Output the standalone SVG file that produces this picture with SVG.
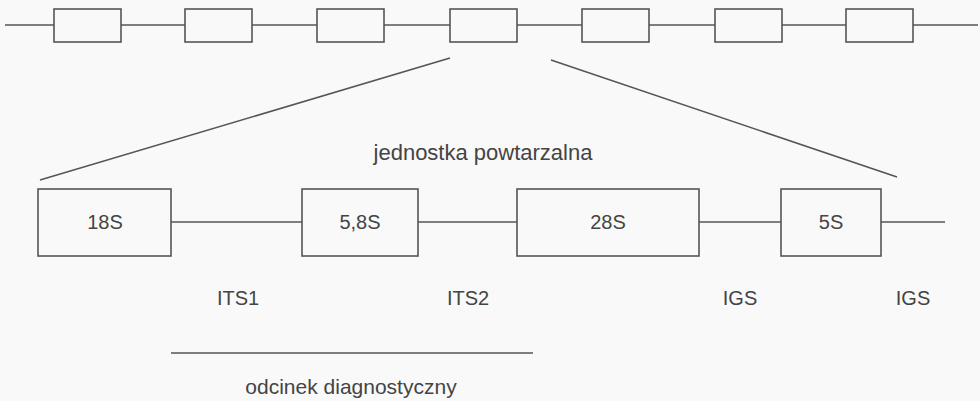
<svg xmlns="http://www.w3.org/2000/svg" width="980" height="401" viewBox="0 0 980 401">
<style>
.ln{stroke:#555;stroke-width:1.6;fill:none}
.bx{stroke:#555;stroke-width:1.6;fill:#f9f9f9}
.t{font-family:"Liberation Sans",Arial,sans-serif;font-size:20px;fill:#444;text-anchor:middle}
</style>
<rect width="980" height="401" fill="#f9f9f9"/>
<g id="connectors">
<line class="ln" x1="5" y1="25" x2="978" y2="25"/>
<line class="ln" x1="450" y1="58" x2="40" y2="180"/>
<line class="ln" x1="551" y1="60" x2="897" y2="177"/>
<line class="ln" x1="171" y1="222" x2="945" y2="222"/>
<line class="ln" x1="171" y1="353" x2="533" y2="353"/>
</g>
<g id="top-units">
<rect id="u1" class="bx" x="54" y="9" width="67" height="33"/>
<rect id="u2" class="bx" x="185" y="9" width="67" height="33"/>
<rect id="u3" class="bx" x="317" y="9" width="67" height="33"/>
<rect id="u4" class="bx" x="450" y="9" width="67" height="33"/>
<rect id="u5" class="bx" x="582" y="9" width="67" height="33"/>
<rect id="u6" class="bx" x="715" y="9" width="67" height="33"/>
<rect id="u7" class="bx" x="846" y="9" width="67" height="33"/>
</g>
<text class="t" x="483" y="160" style="font-size:22px">jednostka powtarzalna</text>
<g id="n18S"><rect class="bx" x="38" y="189" width="133" height="67"/><text class="t" x="105" y="229">18S</text></g>
<g id="n58S"><rect class="bx" x="302" y="189" width="116" height="67"/><text class="t" x="360" y="229">5,8S</text></g>
<g id="n28S"><rect class="bx" x="517" y="189" width="182" height="67"/><text class="t" x="608" y="229">28S</text></g>
<g id="n5S"><rect class="bx" x="781" y="189" width="100" height="67"/><text class="t" x="831" y="229">5S</text></g>
<g id="labels">
<text class="t" x="238" y="305">ITS1</text>
<text class="t" x="468" y="305">ITS2</text>
<text class="t" x="740" y="305">IGS</text>
<text class="t" x="913" y="305">IGS</text>
<text class="t" x="351" y="394" style="font-size:21px">odcinek diagnostyczny</text>
</g>
</svg>
